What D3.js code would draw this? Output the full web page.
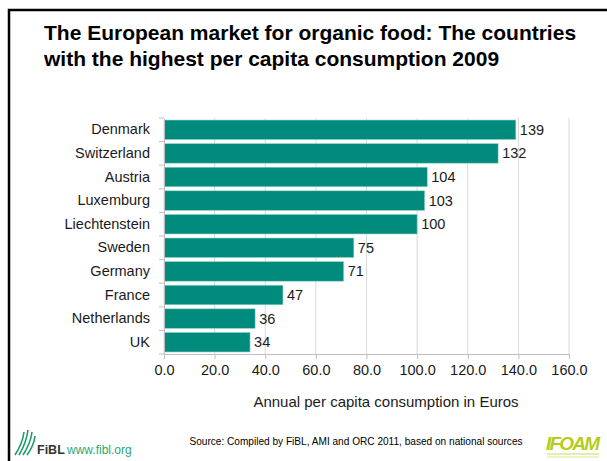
<!DOCTYPE html>
<html><head><meta charset="utf-8">
<script src="https://cdn.jsdelivr.net/npm/d3@7"></script>
<style>body{margin:0;background:#fff}svg{display:block;font-family:Arial,"Liberation Sans",sans-serif}</style>
</head><body><svg id="c" width="607" height="461"></svg>
<script>
const countries = ["Denmark","Switzerland","Austria","Luxemburg","Liechtenstein","Sweden","Germany","France","Netherlands","UK"];
const values = [139,132,104,103,100,75,71,47,36,34];
const xTicks = [0,20,40,60,80,100,120,140,160];
const titleLines = ["The European market for organic food: The countries","with the highest per capita consumption 2009"];
const xTitle = "Annual per capita consumption in Euros";
const sourceText = "Source: Compiled by FiBL, AMI and ORC 2011, based on national sources";

const svg = d3.select("#c");
const FONT = "Arial,'Liberation Sans',sans-serif";
// frame
svg.append("path").attr("d","M9,461V10H607").attr("fill","none").attr("stroke","#000").attr("stroke-width",2.5);

svg.selectAll("text.title").data(titleLines).join("text").attr("class","title")
  .attr("x",44).attr("y",(d,i)=>40+i*26).attr("font-size",21).attr("font-weight","bold").attr("fill","#000").text(d=>d);

const x = d3.scaleLinear().domain([0,160]).range([164,569]);
const y = d3.scaleBand().domain(countries).range([118,354]).paddingInner(0.17).paddingOuter(0.085);

// gridlines
svg.append("g").selectAll("line").data(xTicks.slice(1)).join("line")
  .attr("x1",d=>x(d)).attr("x2",d=>x(d)).attr("y1",118).attr("y2",354)
  .attr("stroke","#d9d9d9").attr("stroke-width",1);

// bars
svg.append("g").selectAll("rect").data(values).join("rect")
  .attr("x",x(0)).attr("y",(d,i)=>y(countries[i])).attr("width",d=>x(d)-x(0)).attr("height",y.bandwidth())
  .attr("fill","#008B7C").attr("stroke","#9fd6cf").attr("stroke-width",0.6);

// value labels
svg.append("g").selectAll("text").data(values).join("text")
  .attr("x",d=>x(d)+4).attr("y",(d,i)=>y(countries[i])+y.bandwidth()/2+5)
  .attr("font-size",14.5).attr("fill","#1a1a1a").text(d=>d);

// y axis
const yAxis = d3.axisLeft(y).tickSize(0).tickPadding(14);
const gy = svg.append("g").attr("transform",`translate(${x(0)},0)`).call(yAxis);
gy.select(".domain").attr("stroke","#bfbfbf");
gy.selectAll("text").attr("font-size",14.5).attr("fill","#1a1a1a").attr("font-family",FONT);
// category boundary ticks
const bounds = d3.range(countries.length+1).map(i=>118+i*(354-118)/countries.length);
svg.append("g").selectAll("line").data(bounds).join("line")
  .attr("x1",x(0)-5).attr("x2",x(0)).attr("y1",d=>d).attr("y2",d=>d).attr("stroke","#bfbfbf");

// x axis
const xAxis = d3.axisBottom(x).tickValues(xTicks).tickFormat(d3.format(".1f")).tickSize(5).tickPadding(6);
const gx = svg.append("g").attr("transform","translate(0,354)").call(xAxis);
gx.select(".domain").attr("stroke","#bfbfbf");
gx.selectAll(".tick line").attr("stroke","#bfbfbf");
gx.selectAll("text").attr("font-size",14.5).attr("fill","#1a1a1a").attr("font-family",FONT);

svg.append("text").attr("x",386).attr("y",407).attr("text-anchor","middle").attr("font-size",15).attr("fill","#1a1a1a").text(xTitle);

svg.append("text").attr("x",356).attr("y",445).attr("text-anchor","middle").attr("font-size",10.1).attr("fill","#000").text(sourceText);

// FiBL logo (approximation)
const lg = svg.append("g");
[[15,455,24,432],[19,455,28,430],[23,455,32,432],[27,455,35,436]].forEach(p=>{
  lg.append("path").attr("d",`M${p[0]},${p[1]} Q${(p[0]+p[2])/2+3},${(p[1]+p[3])/2} ${p[2]},${p[3]}`).attr("stroke","#1f9a6a").attr("stroke-width",1.6).attr("fill","none");
});
lg.append("text").attr("x",37).attr("y",454).attr("font-size",12.5).attr("font-weight","bold").attr("fill","#333").text("FiBL");
lg.append("text").attr("x",67).attr("y",454).attr("font-size",12).attr("fill","#2aa876").text("www.fibl.org");

// IFOAM logo (approximation)
const ig = svg.append("g");
ig.append("text").attr("x",546).attr("y",450).attr("font-size",19).attr("font-weight","bold").attr("font-style","italic").attr("fill","#b5cc1c").attr("textLength",54).text("IFOAM");
ig.append("line").attr("x1",547).attr("x2",599).attr("y1",454).attr("y2",454).attr("stroke","#c8d860").attr("stroke-width",1);
ig.append("line").attr("x1",547).attr("x2",599).attr("y1",457).attr("y2",457).attr("stroke","#dbe58f").attr("stroke-width",1);
</script></body></html>
